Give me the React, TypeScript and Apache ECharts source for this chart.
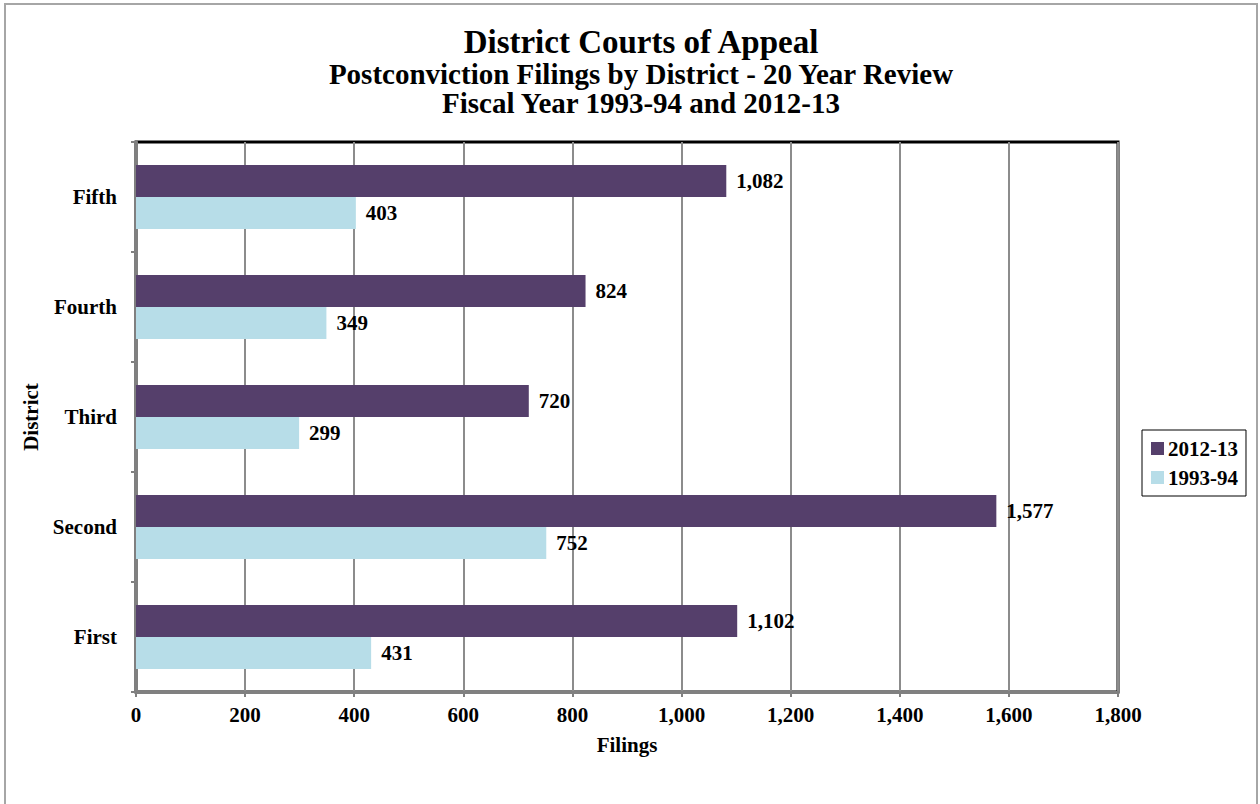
import React, { useEffect, useRef } from "react";
import * as echarts from "echarts";

const districts = ["First", "Second", "Third", "Fourth", "Fifth"];
const filings2012 = [1102, 1577, 720, 824, 1082];
const filings1993 = [431, 752, 299, 349, 403];
const xTicks = [0, 200, 400, 600, 800, 1000, 1200, 1400, 1600, 1800];

const FONT = "'Liberation Serif', 'Times New Roman', serif";
const fmt = (v: number) => v.toLocaleString("en-US");

export default function App() {
  const ref = useRef<HTMLDivElement>(null);
  useEffect(() => {
    if (!ref.current) return;
    const chart = echarts.init(ref.current, undefined, { renderer: "svg" });
    const labelStyle = {
      show: true,
      position: "right" as const,
      distance: 10,
      color: "#000",
      fontFamily: FONT,
      fontWeight: "bold" as const,
      fontSize: 21,
      formatter: (p: any) => fmt(p.value),
    };
    chart.setOption({
      animation: false,
      backgroundColor: "#fff",
      title: [
        {
          text: "District Courts of Appeal",
          left: 641,
          top: 27,
          padding: 0,
          textAlign: "center",
          textStyle: { fontFamily: FONT, fontWeight: "bold", fontSize: 33, lineHeight: 30, color: "#000" },
        },
        {
          text: "Postconviction Filings by District - 20 Year Review",
          left: 641,
          top: 60,
          padding: 0,
          textAlign: "center",
          textStyle: { fontFamily: FONT, fontWeight: "bold", fontSize: 29, lineHeight: 27, color: "#000" },
        },
        {
          text: "Fiscal Year 1993-94 and 2012-13",
          left: 641,
          top: 89,
          padding: 0,
          textAlign: "center",
          textStyle: { fontFamily: FONT, fontWeight: "bold", fontSize: 29, lineHeight: 27, color: "#000" },
        },
      ],
      graphic: [
        {
          type: "rect",
          shape: { x: 5, y: 4, width: 1252, height: 820 },
          style: { fill: "none", stroke: "#A6A6A6", lineWidth: 2 },
          silent: true,
        },
      ],
      legend: {
        data: ["2012-13", "1993-94"],
        orient: "vertical",
        left: 1142,
        top: 430,
        padding: [8, 8, 8, 9],
        itemWidth: 13,
        itemHeight: 13,
        itemGap: 8,
        borderColor: "#000",
        borderWidth: 1,
        icon: "rect",
        textStyle: { fontFamily: FONT, fontWeight: "bold", fontSize: 21, color: "#000", padding: [0, 0, 0, -1] },
      },
      grid: {
        left: 136,
        right: 142,
        top: 142,
        bottom: 112,
        show: true,
        borderColor: "#000",
        borderWidth: 3,
        containLabel: false,
      },
      xAxis: {
        type: "value",
        min: 0,
        max: 1800,
        interval: 200,
        name: "Filings",
        nameLocation: "middle",
        nameGap: 42,
        nameTextStyle: { fontFamily: FONT, fontWeight: "bold", fontSize: 21, color: "#000" },
        axisLine: { show: true, lineStyle: { color: "#808080", width: 3 } },
        axisTick: { show: true, length: 5, lineStyle: { color: "#808080", width: 2 } },
        splitLine: { show: true, lineStyle: { color: "#8C8C8C", width: 2 } },
        axisLabel: {
          margin: 12,
          fontFamily: FONT,
          fontWeight: "bold",
          fontSize: 21,
          color: "#000",
          formatter: (v: number) => (xTicks.includes(v) ? fmt(v) : ""),
        },
      },
      yAxis: {
        type: "category",
        data: districts,
        name: "District",
        nameLocation: "middle",
        nameGap: 92,
        nameTextStyle: { fontFamily: FONT, fontWeight: "bold", fontSize: 21, color: "#000" },
        axisLine: { show: true, lineStyle: { color: "#808080", width: 3 } },
        axisTick: { show: true, length: 5, alignWithLabel: false, lineStyle: { color: "#808080", width: 2 } },
        splitLine: { show: false },
        axisLabel: {
          margin: 19,
          fontFamily: FONT,
          fontWeight: "bold",
          fontSize: 21,
          color: "#000",
        },
      },
      series: [
        {
          name: "2012-13",
          type: "bar",
          data: filings2012,
          barWidth: 32,
          barGap: "0%",
          itemStyle: { color: "#553F6B" },
          label: labelStyle,
        },
        {
          name: "1993-94",
          type: "bar",
          data: filings1993,
          barWidth: 32,
          barGap: "0%",
          itemStyle: { color: "#B7DDE8" },
          label: labelStyle,
        },
      ],
    });
    return () => chart.dispose();
  }, []);
  return (
    <div
      ref={ref}
      style={{ position: "fixed", left: 0, top: 0, width: 1260, height: 804 }}
    />
  );
}
